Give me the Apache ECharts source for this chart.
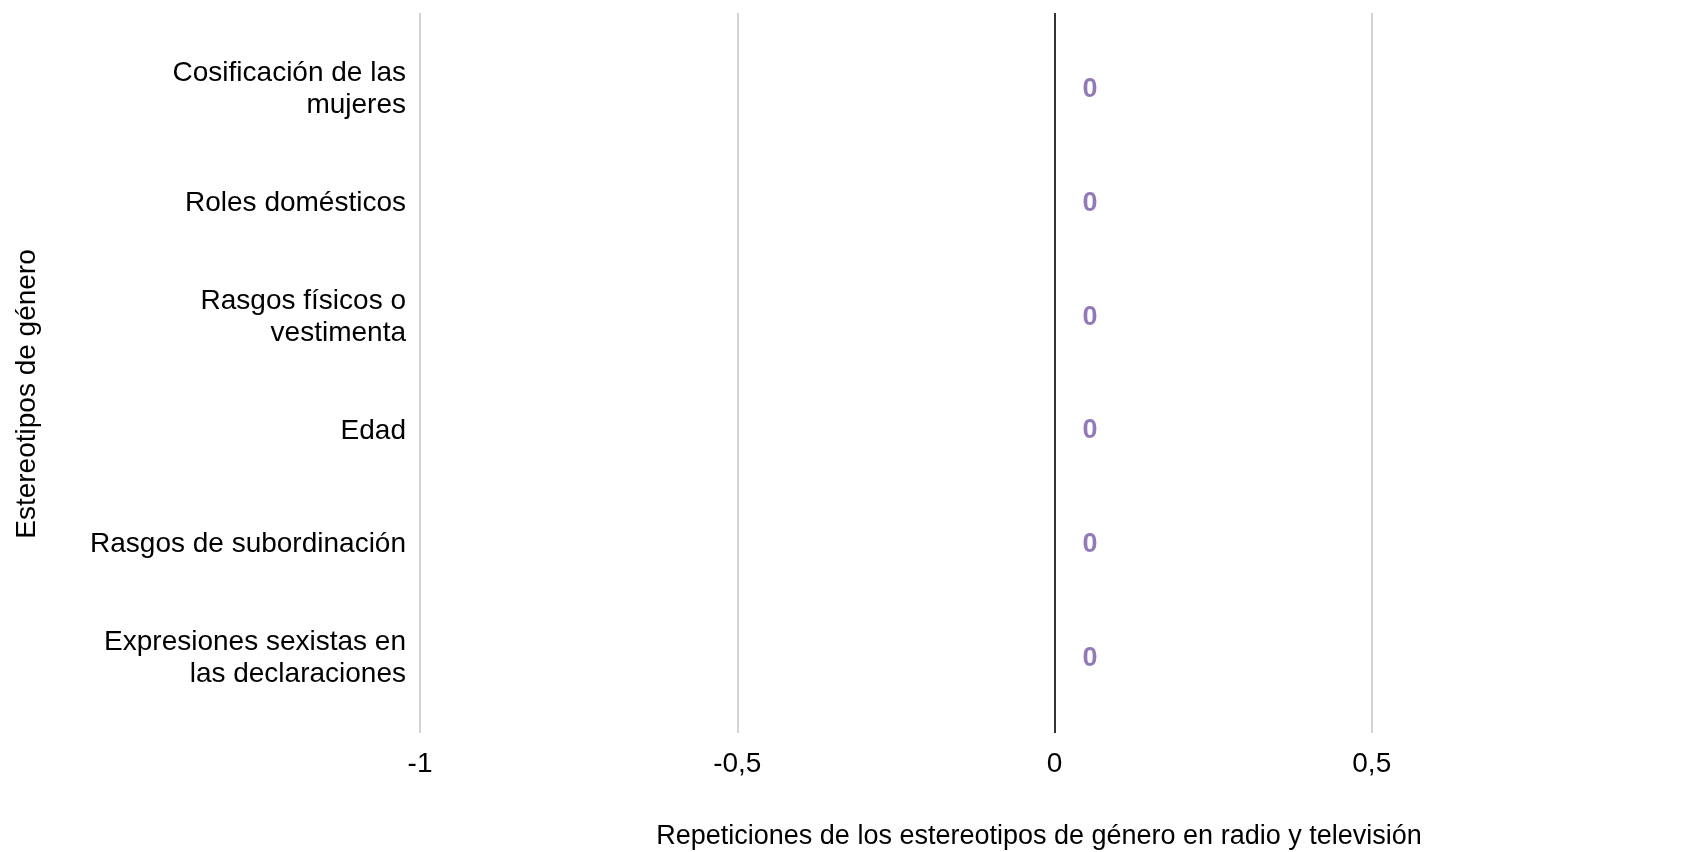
<!DOCTYPE html>
<html>
<head>
<meta charset="utf-8">
<script src="https://cdn.jsdelivr.net/npm/echarts@6/dist/echarts.min.js"></script>
<style>
html,body{margin:0;padding:0;background:#fff;}
#chart{width:1683px;height:852px;}
</style>
</head>
<body>
<div id="chart"></div>
<script>
var categories = [
  'Cosificación de las\nmujeres',
  'Roles domésticos',
  'Rasgos físicos o\nvestimenta',
  'Edad',
  'Rasgos de subordinación',
  'Expresiones sexistas en\nlas declaraciones'
];
var values = [0, 0, 0, 0, 0, 0];
var xTicks = [-1, -0.5, 0, 0.5];
var xTitle = 'Repeticiones de los estereotipos de género en radio y televisión';
var yTitle = 'Estereotipos de género';

var FONT = '"Liberation Sans", Arial, sans-serif';
var chart = echarts.init(document.getElementById('chart'));
var points = values.map(function (v, i) { return [v, i]; });

chart.setOption({
  backgroundColor: '#ffffff',
  animation: false,
  grid: { left: 420, width: 1269, top: 13, height: 720, containLabel: false, outerBoundsMode: 'none' },
  xAxis: {
    type: 'value',
    min: -1,
    max: 1,
    interval: 0.5,
    axisLine: { show: false },
    axisTick: { show: false },
    splitLine: { show: true, lineStyle: { color: '#d3d3d3', width: 2 } },
    axisLabel: {
      margin: 17,
      fontFamily: FONT,
      fontSize: 28,
      color: '#000',
      formatter: function (v) {
        return xTicks.indexOf(v) >= 0 ? String(v).replace('.', ',') : '';
      }
    },
    name: xTitle,
    nameLocation: 'middle',
    nameGap: 90,
    nameTextStyle: { fontFamily: FONT, fontSize: 27, color: '#000', padding: [0, 31, 0, 0] }
  },
  yAxis: {
    type: 'value',
    inverse: true,
    min: -0.675,
    max: 5.655,
    axisLine: { show: false },
    axisTick: { show: false },
    splitLine: { show: false },
    axisLabel: {
      customValues: [0, 1, 2, 3, 4, 5],
      margin: 14,
      fontFamily: FONT,
      fontSize: 28,
      lineHeight: 32,
      color: '#000',
      align: 'right',
      formatter: function (v) { return categories[v] !== undefined ? categories[v] : ''; }
    }
  },
  graphic: [{
    type: 'text',
    x: 27,
    y: 394,
    rotation: Math.PI / 2,
    style: {
      text: yTitle,
      fontFamily: FONT,
      fontSize: 28,
      fill: '#000',
      textAlign: 'center',
      textVerticalAlign: 'middle'
    }
  }],
  series: [{
    type: 'scatter',
    data: points,
    symbolSize: 0,
    label: {
      show: true,
      position: 'right',
      distance: 28,
      fontFamily: FONT,
      fontSize: 27,
      fontWeight: 'bold',
      color: '#7759a5',
      formatter: function (p) { return String(p.value[0]); }
    },
    markLine: {
      silent: true,
      symbol: 'none',
      label: { show: false },
      lineStyle: { color: '#333333', width: 2, type: 'solid' },
      data: [{ xAxis: 0 }]
    }
  }]
});
</script>
</body>
</html>
